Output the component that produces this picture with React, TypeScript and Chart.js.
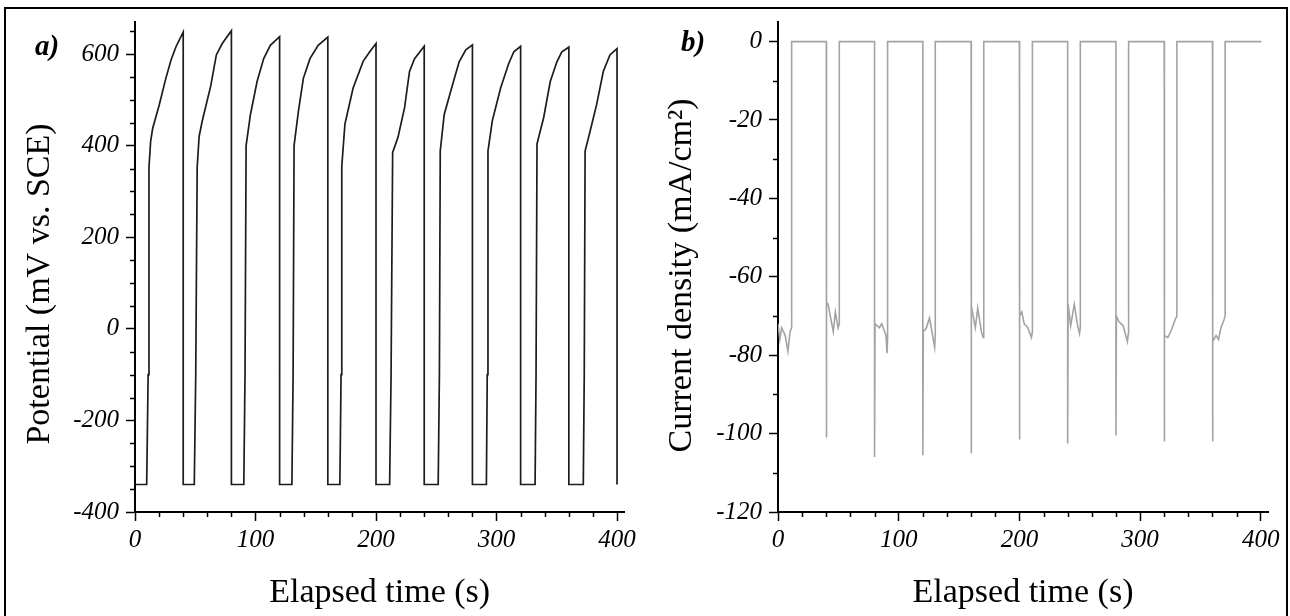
import React, { useEffect, useRef } from 'react';
import { Chart, registerables } from 'chart.js';

Chart.register(...registerables);

const SERIF = '"Liberation Serif", "Times New Roman", serif';

// ---- Shared x axis (elapsed time, s)
const X_MIN = 0;
const X_MAX = 406;
const X_TICKS = [0, 100, 200, 300, 400];
const X_MINOR = 20;

// ---- Panel a) Potential (mV vs. SCE)
const POT_MIN = -400;
const POT_MAX = 670;
const POT_TICKS = [-400, -200, 0, 200, 400, 600];
const POT_MINOR = 50;

const potentialTime = [
  0, 9.7, 10.9, 11.6, 13.0, 14.7, 20.2, 25.7, 29.9, 34.0, 40, 40,
  49.2, 50.4, 51.6, 53.2, 55.9, 62.8, 67.5, 72.4, 80, 80,
  90.3, 91.3, 92.2, 95.8, 101.3, 106.8, 112.3, 120, 120,
  130.2, 131.2, 132.0, 135.6, 139.7, 145.2, 152.0, 160, 160,
  170.0, 171.0, 171.6, 174.2, 181.0, 189.3, 194.8, 200, 200,
  211.3, 212.5, 213.8, 218.2, 223.7, 227.8, 232.0, 240, 240,
  251.6, 252.6, 253.3, 256.6, 263.5, 269.0, 274.5, 280, 280,
  291.6, 292.3, 292.9, 296.5, 303.4, 310.2, 314.4, 320, 320,
  332.0, 332.8, 333.6, 339.1, 344.6, 350.1, 354.2, 360, 360,
  372.0, 372.8, 373.5, 377.6, 383.1, 388.6, 394.1, 400, 400,
];
const potentialValue = [
  -340, -340, -100, 353, 410, 438, 490, 548, 587, 616, 648, -340,
  -340, -100, 353, 420, 455, 530, 598, 623, 651, -340,
  -340, -100, 400, 468, 540, 590, 619, 638, -340,
  -340, -100, 400, 475, 547, 590, 619, 637, -340,
  -340, -100, 355, 447, 526, 584, 605, 623, -340,
  -340, -100, 385, 418, 483, 562, 590, 617, -340,
  -340, -100, 388, 468, 533, 583, 609, 620, -340,
  -340, -100, 388, 454, 526, 580, 605, 617, -340,
  -340, -100, 404, 461, 540, 583, 605, 615, -340,
  -340, -100, 388, 431, 490, 562, 598, 612, -340,
];

// ---- Panel b) Current density (mA/cm2)
const CUR_MIN = -120;
const CUR_MAX = 5;
const CUR_TICKS = [-120, -100, -80, -60, -40, -20, 0];
const CUR_MINOR = 10;

const currentTime = [
  0, 1.5, 3, 6, 8.2, 10, 11.3, 11.3, 40,
  40, 40.4, 41.5, 45.8, 47.5, 49.8, 50.8, 50.8, 80,
  80, 80.4, 84, 86, 89.5, 90.3, 90.8, 90.8, 120,
  120, 120.4, 123, 125.5, 127, 129.8, 130.3, 130.3, 160,
  160, 160.4, 163.5, 165.5, 168.5, 170, 170.5, 170.5, 200,
  200, 200.4, 202, 204, 207, 210, 210.8, 210.8, 240,
  240, 240.4, 242.5, 245.5, 248, 249.8, 250.5, 250.5, 280,
  280, 280.4, 282.5, 286, 289.5, 290.5, 290.5, 320,
  320, 320.4, 323, 326, 329, 330.5, 330.5, 360,
  360, 360.4, 363, 365, 367, 369.5, 370.5, 370.5, 400.5,
];
const currentValue = [
  -72, -76, -73, -75, -79, -74, -73, 0, 0,
  -101, -66.5, -67, -74, -69, -73, -72, 0, 0,
  -106, -72, -73, -72, -75, -79.5, -76, 0, 0,
  -105.5, -74, -73, -70.5, -73, -78, -75, 0, 0,
  -105, -67.5, -73, -68, -74, -75.5, -74, 0, 0,
  -101.5, -70, -69, -72, -73, -75.5, -74, 0, 0,
  -102.5, -67, -72.5, -67, -72, -74.5, -73, 0, 0,
  -100.5, -70, -71.5, -72.5, -76.5, -74, 0, 0,
  -102, -75, -75.5, -73.5, -71, -70, 0, 0,
  -102, -76.5, -75, -76, -73, -71, -70, 0, 0,
];

const X_TITLE = 'Elapsed time (s)';
const POT_TITLE = 'Potential (mV vs. SCE)    ';
const CUR_TITLE = 'Current density (mA/cm\u00B2)  ';

const tickFont = { family: SERIF, size: 25, style: 'italic' as const };
const titleFont = { family: SERIF, size: 34 };

const minorTickPlugin = {
  id: 'minorTicks',
  afterDraw(chart: any, _args: any, opts: any) {
    const { ctx } = chart;
    const xs = chart.scales.x;
    const ys = chart.scales.y;
    const area = chart.chartArea;
    ctx.save();
    ctx.strokeStyle = '#000';
    ctx.lineWidth = 1.5;
    ctx.beginPath();
    for (let v = xs.min; v <= xs.max + 1e-9; v += opts.x) {
      if (opts.xMajor.includes(v)) continue;
      const px = Math.round(xs.getPixelForValue(v)) + 0.5;
      ctx.moveTo(px, area.bottom);
      ctx.lineTo(px, area.bottom + 5);
    }
    const yStart = Math.ceil(ys.min / opts.y) * opts.y;
    for (let v = yStart; v <= ys.max + 1e-9; v += opts.y) {
      if (opts.yMajor.includes(v)) continue;
      const py = Math.round(ys.getPixelForValue(v)) + 0.5;
      ctx.moveTo(area.left, py);
      ctx.lineTo(area.left - 5, py);
    }
    ctx.stroke();
    ctx.restore();
  },
};

function makeX() {
  return {
    type: 'linear' as const,
    min: X_MIN,
    max: X_MAX,
    afterBuildTicks: (s: any) => {
      s.ticks = X_TICKS.map((v) => ({ value: v }));
    },
    ticks: {
      color: '#000',
      font: tickFont,
      padding: 4,
      maxRotation: 0,
      autoSkip: false,
    },
    grid: {
      display: true,
      drawOnChartArea: false,
      drawTicks: true,
      tickLength: 9,
      tickColor: '#000',
      tickWidth: 1.5,
    },
    border: { display: true, color: '#000', width: 2 },
    title: {
      display: true,
      text: X_TITLE,
      color: '#000',
      font: titleFont,
      padding: { top: 0, bottom: 3 },
    },
    afterFit: (s: any) => {
      s.height = 104;
    },
  };
}

function makeY(min: number, max: number, tickValues: number[], title: string, yWidth: number, titlePad: number) {
  return {
    type: 'linear' as const,
    min,
    max,
    afterBuildTicks: (s: any) => {
      s.ticks = tickValues.map((v) => ({ value: v }));
    },
    ticks: {
      color: '#000',
      font: tickFont,
      padding: 7,
      autoSkip: false,
    },
    grid: {
      display: true,
      drawOnChartArea: false,
      drawTicks: true,
      tickLength: 9,
      tickColor: '#000',
      tickWidth: 1.5,
    },
    border: { display: true, color: '#000', width: 2 },
    title: {
      display: true,
      text: title,
      color: '#000',
      font: titleFont,
      padding: { top: titlePad, bottom: 0 },
    },
    afterFit: (s: any) => {
      s.width = yWidth;
    },
  };
}

function toPoints(ts: number[], vs: number[]) {
  return ts.map((t, i) => ({ x: t, y: vs[i] }));
}

export default function App() {
  const leftRef = useRef<HTMLCanvasElement | null>(null);
  const rightRef = useRef<HTMLCanvasElement | null>(null);

  useEffect(() => {
    const left = new Chart(leftRef.current as HTMLCanvasElement, {
      type: 'scatter',
      data: {
        datasets: [
          {
            data: toPoints(potentialTime, potentialValue),
            showLine: true,
            borderColor: '#1c1c1c',
            borderWidth: 1.7,
            pointRadius: 0,
            tension: 0,
          },
        ],
      },
      options: {
        animation: false,
        responsive: false,
        layout: { padding: { top: 17, right: 15, left: 0, bottom: 0 } },
        plugins: {
          legend: { display: false },
          tooltip: { enabled: false },
          minorTicks: { x: X_MINOR, xMajor: X_TICKS, y: POT_MINOR, yMajor: POT_TICKS },
        } as any,
        scales: {
          x: makeX(),
          y: makeY(POT_MIN, POT_MAX, POT_TICKS, POT_TITLE, 135, 20),
        },
      },
      plugins: [minorTickPlugin],
    } as any);

    const right = new Chart(rightRef.current as HTMLCanvasElement, {
      type: 'scatter',
      data: {
        datasets: [
          {
            data: toPoints(currentTime, currentValue),
            showLine: true,
            borderColor: '#a3a3a3',
            borderWidth: 1.6,
            pointRadius: 0,
            tension: 0,
          },
        ],
      },
      options: {
        animation: false,
        responsive: false,
        layout: { padding: { top: 17, right: 22, left: 0, bottom: 0 } },
        plugins: {
          legend: { display: false },
          tooltip: { enabled: false },
          minorTicks: { x: X_MINOR, xMajor: X_TICKS, y: CUR_MINOR, yMajor: CUR_TICKS },
        } as any,
        scales: {
          x: makeX(),
          y: makeY(CUR_MIN, CUR_MAX, CUR_TICKS, CUR_TITLE, 138, 22),
        },
      },
      plugins: [minorTickPlugin],
    } as any);

    return () => {
      left.destroy();
      right.destroy();
    };
  }, []);

  const labelStyle: React.CSSProperties = {
    position: 'absolute',
    fontFamily: SERIF,
    fontWeight: 'bold',
    fontStyle: 'italic',
    fontSize: 29,
    lineHeight: '29px',
    color: '#000',
  };

  return (
    <div
      style={{
        position: 'fixed',
        left: 0,
        top: 0,
        width: 1290,
        height: 616,
        background: '#fff',
        overflow: 'hidden',
      }}
    >
      <canvas ref={leftRef} width={640} height={616} style={{ position: 'absolute', left: 0, top: 0 }} />
      <canvas ref={rightRef} width={650} height={616} style={{ position: 'absolute', left: 640, top: 0 }} />
      <div style={{ ...labelStyle, left: 35, top: 31 }}>a)</div>
      <div style={{ ...labelStyle, left: 681, top: 27 }}>b)</div>
      <div
        style={{
          position: 'absolute',
          left: 4,
          top: 7,
          width: 1284,
          height: 640,
          border: '2px solid #000',
          boxSizing: 'border-box',
          pointerEvents: 'none',
        }}
      />
    </div>
  );
}
